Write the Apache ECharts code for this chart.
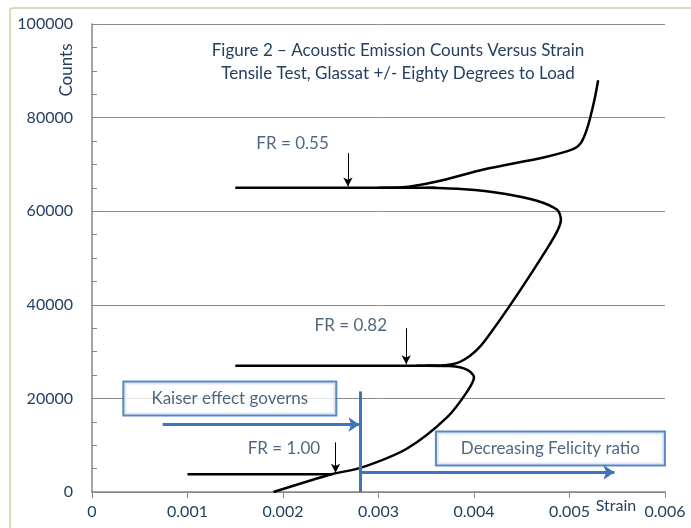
<!DOCTYPE html>
<html>
<head>
	<meta charset="UTF-8">
	<title>Acoustic Emission Counts Versus Strain</title>
	<style>
		html, body { margin:0; padding:0; background:#fff; }
		#chart { width:691px; height:528px; }
	</style>
</head>
<body>
<div id="chart"></div>
<script src="https://cdn.jsdelivr.net/npm/echarts@6/dist/echarts.min.js"></script>
<script type="text/javascript">
	// strain / counts
	var curveLower = [[0.0019,0],[0.00252,3850],[0.00282,5200],[0.0033,9300],[0.00372,16000],[0.00393,21500],[0.00400,24500],[0.00393,26100],[0.00375,26900],[0.0035,27000]];
	var curveMiddle = [[0.0034,27000],[0.0037,27100],[0.0039,28300],[0.00412,32500],[0.00478,52500],[0.00491,58200],[0.00487,60300],[0.00465,62300],[0.0043,63800],[0.0039,64700],[0.0035,65000]];
	var curveUpper = [[0.0030,65000],[0.00325,65100],[0.0036,66300],[0.0041,68900],[0.00475,71600],[0.00503,73200],[0.00512,74600],[0.00519,78000],[0.00526,83700],[0.0053,88000]];
	var stubs = [[[0.0010,3800],[0.0025,3800]], [[0.0015,27000],[0.0036,27000]], [[0.0015,65000],[0.0036,65000]]];

	var frNames = ['FR = 0.55', 'FR = 0.82', 'FR = 1.00'];
	var frLabelPos = [[0.0021,74500],[0.00271,35600],[0.00201,9300]];
	var frArrows = [[0.00268,72400,65300],[0.00329,35000,27300],[0.00255,10600,4100]];

	var boxNames = ['Kaiser effect governs', 'Decreasing Felicity ratio'];
	var boxPos = [[0.001443,20000],[0.0048,9300]];
	var boxWidths = [183, 199];
	var blueArrows = [[[0.00074,14400],[0.0028,14400]], [[0.0028,4200],[0.00547,4200]]];
	var blueLine = [[0.00281,0],[0.00281,21500]];

	var xTicks = [0, 0.006, 0.001];
	var yTicks = [0, 100000, 20000];

	var ink = '#243f60';
	var blue = '#3f75b8';
	var font = 'Lato';

	var chart = echarts.init(document.getElementById('chart'));

	function curve(data)
	{
		return {
			type:'line', data:data, smooth:0.3, smoothMonotone:'none', showSymbol:false, silent:true,
			lineStyle:{color:'#000', width:2.5}, z:3
		};
	}

	var series = [curve(curveLower), curve(curveMiddle), curve(curveUpper)];
	stubs.forEach(function(s)
	{
		series.push({type:'line', data:s, showSymbol:false, silent:true, lineStyle:{color:'#000', width:2.5}, z:3});
	});

	// FR labels + arrows
	series.push({
		type:'scatter', symbolSize:0, silent:true,
		data: frNames.map(function(n, i){ return {name:n, value:frLabelPos[i]}; }),
		label:{show:true, position:'inside', formatter:'{b}', color:ink, fontFamily:font, fontSize:17},
		markLine:{
			silent:true, symbol:['none','arrow'], symbolSize:[7,9], label:{show:false},
			lineStyle:{color:'#000', width:1, type:'solid'},
			data: frArrows.map(function(a){ return [{coord:[a[0],a[1]]},{coord:[a[0],a[2]]}]; })
		}
	});

	// blue boxes + arrows
	series.push({
		type:'scatter', symbolSize:0, silent:true, z:5,
		data: boxNames.map(function(n, i){ return {name:n, value:boxPos[i], label:{width:boxWidths[i]}}; }),
		label:{
			show:true, position:'inside', formatter:'{b}', color:ink, fontFamily:font, fontSize:17,
			align:'center', height:18, lineHeight:18,
			backgroundColor:'#fff', borderColor:'#2f6bb5', borderWidth:2, padding:[7,14]
		},
		markLine:{
			silent:true, label:{show:false}, symbolSize:[11,11],
			lineStyle:{color:blue, width:3, type:'solid'},
			data: blueArrows.map(function(a){ return [{coord:a[0], symbol:'none'},{coord:a[1], symbol:'arrow'}]; })
				.concat([[{coord:blueLine[0], symbol:'none'},{coord:blueLine[1], symbol:'none'}]])
		}
	});

	var option =
	{
		animation:false,
		backgroundColor:'#fff',
		title:{
			text:'Figure 2 \u2013 Acoustic Emission Counts Versus Strain\nTensile Test, Glassat +/- Eighty Degrees to Load',
			left:393, top:34, textAlign:'center',
			textStyle:{color:ink, fontFamily:font, fontSize:17, fontWeight:'normal', lineHeight:23}
		},
		grid:{left:92, right:26, top:24, bottom:36},
		xAxis:{
			type:'value', min:xTicks[0], max:xTicks[1], interval:xTicks[2],
			axisLine:{lineStyle:{color:'#868686', width:1.5}},
			axisTick:{show:true, length:6, lineStyle:{color:'#868686'}},
			splitLine:{show:false},
			axisLabel:{color:ink, fontFamily:font, fontSize:16, margin:12,
				formatter:function(v){ return v === 0 ? '0' : v.toFixed(3); }}
		},
		yAxis:{
			type:'value', min:yTicks[0], max:yTicks[1], interval:yTicks[2],
			axisLine:{show:true, lineStyle:{color:'#868686', width:1.5}},
			axisTick:{show:true, inside:true, length:5, lineStyle:{color:'#868686'}},
			minorTick:{show:true, splitNumber:4, length:5, lineStyle:{color:'#868686'}},
			splitLine:{lineStyle:{color:'#8c8c8c', width:1}},
			axisLabel:{color:ink, fontFamily:font, fontSize:16, margin:19,
				formatter:function(v){ return String(v); }}
		},
		graphic:[
			{type:'rect', shape:{x:10, y:8, width:720, height:560, r:3}, style:{fill:'none', stroke:'#d6cca3', lineWidth:1.5}, z:-10},
			{type:'text', x:67, y:70, rotation:Math.PI/2, style:{text:'Counts', fill:ink, font:'17px Lato', align:'center', verticalAlign:'middle'}},
			{type:'text', x:616, y:506, style:{text:'Strain', fill:ink, font:'16px Lato', align:'center', verticalAlign:'middle'}}
		],
		series:series
	};
	chart.setOption(option);
</script>
</body>
</html>
